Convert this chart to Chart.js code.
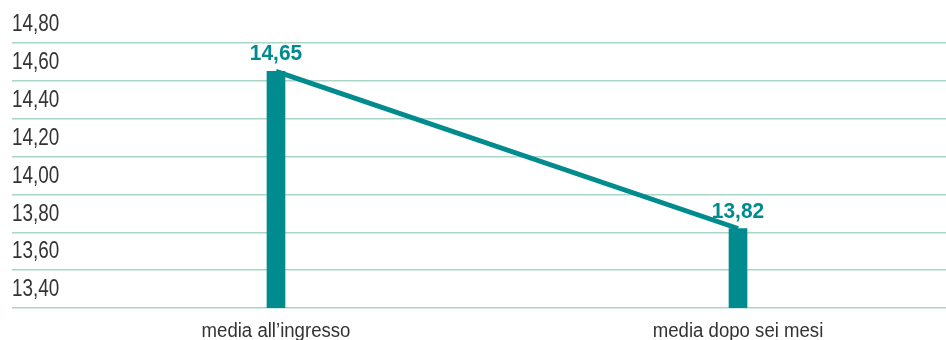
<!DOCTYPE html>
<html>
<head>
<meta charset="utf-8">
<script src="https://cdn.jsdelivr.net/npm/chart.js@4/dist/chart.umd.min.js"></script>
<style>
  html, body { margin: 0; padding: 0; background: #fff; }
  #wrap { width: 946px; height: 340px; position: relative; }
</style>
</head>
<body>
<div id="wrap"><canvas id="c"></canvas></div>
<script>
const categories = ["media all\u2019ingresso", "media dopo sei mesi"];
const values = [14.65, 13.82];
const yTicks = [13.40, 13.60, 13.80, 14.00, 14.20, 14.40, 14.60, 14.80];

const TEAL = "#008b8f";
const GRID = "#a9d6c9";
const TEXT = "#333333";
const FONT = "'Liberation Sans', Arimo, Arial, sans-serif";

const fmt = v => v.toFixed(2).replace(".", ",");

const points = values.map((v, i) => ({ x: i, y: v }));

// draw condensed text (real text, horizontally narrowed like the reference's condensed face)
function narrowText(ctx, text, x, y, squeeze) {
  const w = ctx.measureText(text).width;
  ctx.fillText(text, x, y, w * squeeze);
}

const textPlugin = {
  id: "textPlugin",
  afterDraw(chart) {
    const ctx = chart.ctx;
    const xs = chart.scales.x, ys = chart.scales.y;
    ctx.save();
    // y tick labels, sitting in the band above each gridline
    ctx.font = "23px " + FONT;
    ctx.fillStyle = TEXT;
    ctx.textAlign = "left";
    ctx.textBaseline = "middle";
    yTicks.forEach(v => {
      narrowText(ctx, fmt(v), chart.chartArea.left, ys.getPixelForValue(v) - 18, 0.82);
    });
    // category labels
    ctx.font = "20px " + FONT;
    ctx.textAlign = "center";
    ctx.textBaseline = "alphabetic";
    categories.forEach((c, i) => {
      narrowText(ctx, c, xs.getPixelForValue(i), chart.chartArea.bottom + 29, 0.93);
    });
    // value labels
    ctx.font = "bold 22px " + FONT;
    ctx.fillStyle = TEAL;
    const meta = chart.getDatasetMeta(0);
    meta.data.forEach((el, i) => {
      narrowText(ctx, fmt(values[i]), el.x, el.y - 11, 0.95);
    });
    ctx.restore();
  }
};

new Chart(document.getElementById("c"), {
  data: {
    datasets: [
      {
        type: "bar",
        data: points,
        backgroundColor: TEAL,
        barThickness: 18,
        order: 0
      },
      {
        type: "line",
        data: points,
        borderColor: TEAL,
        borderWidth: 5,
        pointRadius: 0,
        tension: 0,
        order: 1
      }
    ]
  },
  options: {
    responsive: true,
    maintainAspectRatio: false,
    animation: false,
    layout: { padding: { top: 43, left: 12, right: 0, bottom: 24 } },
    plugins: { legend: { display: false }, tooltip: { enabled: false } },
    scales: {
      x: {
        type: "linear",
        offset: false,
        min: -0.5714,
        max: 1.4502,
        grid: { display: false },
        border: { display: false },
        afterBuildTicks: s => { s.ticks = categories.map((c, i) => ({ value: i })); },
        ticks: { display: false }
      },
      y: {
        min: yTicks[0],
        max: yTicks[yTicks.length - 1],
        afterBuildTicks: s => { s.ticks = yTicks.map(v => ({ value: v })); },
        grid: { color: GRID, lineWidth: 1.5, drawTicks: false },
        border: { display: false },
        ticks: { display: false }
      }
    }
  },
  plugins: [textPlugin]
});
</script>
</body>
</html>
